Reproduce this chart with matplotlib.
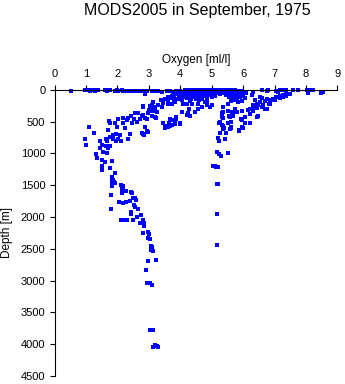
import matplotlib
matplotlib.use('Agg')
import matplotlib.pyplot as plt
import numpy as np

plt.rcParams['font.family'] = ['Liberation Sans', 'DejaVu Sans']

# near-surface samples, 0-50 m
surface_oxygen = [0.52, 0.97, 1.02, 1.08, 1.13, 1.18, 1.23, 1.29, 1.34, 1.39,
                  1.60, 1.66, 1.71, 1.76, 1.92, 1.98, 2.03, 2.14, 2.19, 2.24,
                  2.35, 2.45, 2.56, 2.63, 2.72, 2.82, 2.93, 3.09, 3.20, 3.30,
                  3.41, 3.57, 3.67, 3.78, 3.88, 3.99, 5.95, 6.32, 6.59, 6.75,
                  6.80, 7.06, 7.17, 7.22, 7.33, 7.38, 7.59, 7.75, 8.02, 8.07,
                  8.17, 8.23, 8.49, 8.55]
surface_depth = [15, 10, 10, 10, 12, 10, 10, 12, 10, 10,
                 10, 12, 10, 10, 12, 10, 15, 10, 20, 18,
                 15, 20, 18, 25, 15, 20, 25, 15, 20, 25,
                 30, 20, 25, 30, 20, 15, 20, 30, 5, 15,
                 10, 21, 5, 10, 5, 10, 5, 5, 10, 45,
                 5, 10, 45, 40]

# dense mixed layer, 0-180 m
core_oxygen = [4.15, 4.25, 4.35, 4.45, 4.55, 4.65, 4.75, 4.85, 4.95, 5.05, 5.15, 5.25, 5.35, 5.45, 5.55, 5.65, 5.75,
               4.05, 4.20, 4.30, 4.40, 4.50, 4.60, 4.70, 4.80, 4.90, 5.00, 5.10, 5.20, 5.30, 5.40, 5.50, 5.60, 5.70, 5.85, 6.00,
               3.90, 4.10, 4.25, 4.35, 4.45, 4.55, 4.70, 4.80, 4.95, 5.05, 5.15, 5.35, 5.50, 5.62, 5.75, 5.90, 6.10,
               3.85, 4.00, 4.15, 4.30, 4.40, 4.50, 4.60, 4.75, 4.90, 5.00, 5.25, 5.45, 5.60, 5.70, 5.85,
               3.75, 3.95, 4.05, 4.20, 4.35, 4.50, 4.65, 4.80, 4.95, 5.10, 5.50, 5.65, 5.80, 6.00,
               3.60, 3.80, 3.95, 4.10, 4.25, 4.40, 4.55, 4.70, 4.85, 5.00, 5.55, 5.70, 5.90,
               3.50, 3.70, 3.85, 4.00, 4.20, 4.35, 4.50, 4.65, 5.60, 5.80, 6.05,
               3.40, 3.60, 3.80, 4.05, 4.30, 4.60, 4.85, 5.75, 5.95]
core_depth = [3, 8, 2, 6, 4, 9, 3, 7, 2, 5, 8, 3, 6, 2, 9, 4, 7,
              28, 22, 30, 25, 20, 32, 24, 27, 21, 29, 23, 31, 26, 20, 30, 24, 28, 22, 35,
              45, 50, 42, 48, 55, 44, 47, 52, 43, 49, 46, 53, 41, 50, 45, 48, 55,
              68, 62, 72, 65, 70, 60, 75, 66, 71, 63, 69, 74, 61, 67, 73,
              90, 85, 95, 82, 88, 92, 80, 97, 86, 91, 84, 93, 89, 96,
              115, 108, 120, 112, 105, 118, 110, 122, 107, 116, 113, 109, 119,
              140, 132, 145, 138, 130, 142, 136, 148, 135, 141, 133,
              165, 158, 170, 162, 175, 160, 168, 157, 172]

# thermocline and low-oxygen branch, 180-1700 m
mid_oxygen = [1.76, 1.92, 1.73, 2.03, 1.98, 1.71, 1.95, 1.76, 1.87, 1.95,
              1.66, 1.64, 1.71, 1.76, 1.55, 1.68, 1.45, 1.64, 1.87, 2.11,
              2.01, 2.08, 2.19, 2.24, 2.33, 2.40, 2.30, 2.45, 2.43, 2.56,
              2.67, 2.61, 2.54, 2.72, 2.35, 2.19, 2.77, 2.85, 2.93, 2.80,
              2.88, 2.98, 2.93, 3.09, 3.01, 3.14, 3.04, 3.11, 3.20, 2.82,
              3.25, 3.23, 3.30, 3.46, 3.44, 3.54, 3.65, 3.78, 3.83, 3.69,
              3.88, 3.99, 3.51, 3.62, 3.73, 4.04, 4.25, 4.31, 4.20, 4.29,
              2.88, 3.14, 3.09, 3.04, 3.20, 2.82, 2.77, 2.88, 2.82, 2.98,
              3.20, 3.41, 3.62, 3.73, 3.83, 3.67, 3.78, 3.88, 3.51, 3.67,
              3.83, 3.99, 4.47, 4.57, 4.68, 4.84, 4.94, 5.00, 4.10, 4.20,
              4.36, 4.57, 4.79, 1.11, 0.97, 1.01, 1.26, 1.45, 1.52, 1.31,
              1.34, 1.50, 1.51, 1.52, 1.60, 1.84, 1.76, 1.92, 1.84, 1.85,
              1.82, 1.89, 1.80, 2.14, 2.19, 2.45, 2.56]
mid_depth = [514, 514, 492, 461, 592, 629, 692, 734, 776, 802,
             812, 891, 917, 880, 970, 986, 917, 776, 707, 812,
             776, 707, 514, 603, 776, 697, 472, 524, 409, 367,
             367, 498, 461, 461, 446, 446, 681, 707, 655, 393,
             435, 367, 461, 419, 314, 325, 251, 246, 262, 251,
             356, 435, 236, 199, 524, 561, 524, 472, 524, 456,
             430, 524, 603, 577, 550, 351, 367, 419, 393, 304,
             63, 193, 272, 325, 299, 262, 404, 587, 692, 665,
             430, 272, 220, 220, 193, 456, 482, 456, 587, 561,
             535, 535, 351, 299, 272, 246, 272, 246, 220, 220,
             220, 220, 193, 587, 776, 870, 681, 812, 865, 1006,
             1074, 1100, 1195, 1258, 1127, 1116, 1231, 1310, 1363, 1415,
             1509, 1457, 1650, 1598, 1520, 1624, 1703]

# deep water, below 1400 m
deep_oxygen = [1.82, 1.84, 1.92, 1.80, 2.10, 2.16, 2.19, 2.14, 2.26, 2.43,
               2.51, 2.59, 2.40, 2.06, 2.19, 2.26, 2.54, 2.56, 2.67, 1.80,
               2.43, 2.42, 2.75, 2.61, 2.10, 2.21, 2.30, 2.51, 2.80, 2.72,
               2.85, 2.86, 2.82, 2.98, 3.00, 2.96, 3.04, 3.06, 3.11, 3.07,
               3.12, 2.96, 3.22, 2.91, 2.93, 3.04, 3.11, 3.04, 3.12, 3.20,
               3.25, 3.12, 3.30]
deep_depth = [1431, 1494, 1467, 1661, 1494, 1530, 1572, 1624, 1598, 1614,
              1703, 1729, 1756, 1771, 1782, 1771, 1808, 1844, 1876, 1871,
              1923, 1950, 1966, 2002, 2044, 2055, 2055, 2044, 2044, 2096,
              2096, 2149, 2254, 2243, 2269, 2332, 2343, 2453, 2464, 2516,
              2542, 2688, 2672, 2830, 3040, 3040, 3066, 3774, 3774, 4009,
              4025, 4046, 4051]

# oxygen-rich stations on the right side
right_oxygen = [5.32, 5.35, 5.26, 5.23, 5.32, 5.35, 5.39, 5.26, 5.21, 5.24,
                5.43, 5.16, 5.22, 5.29, 5.51, 5.05, 5.13, 5.21, 5.19, 5.47,
                5.58, 5.53, 5.63, 5.56, 5.65, 5.79, 5.88, 5.95, 5.92, 6.06,
                6.06, 6.22, 6.16, 6.32, 6.43, 6.48, 6.59, 6.71, 6.64, 6.83,
                6.53, 6.75, 6.91, 7.06, 7.17, 7.27, 7.36, 7.12, 6.38, 6.27,
                7.49, 7.38, 7.27, 7.17, 6.96, 6.85, 6.69, 6.59, 6.53, 6.43,
                6.32, 6.64, 6.75, 6.85, 7.01, 6.59, 6.22, 6.32, 5.74, 5.67,
                5.95, 6.06, 6.22, 6.48, 6.43, 5.95, 6.22, 5.63, 5.63, 6.00,
                5.88, 5.37, 5.35, 5.32, 5.26, 5.37, 5.53, 5.58, 5.63, 5.53,
                5.74, 5.63, 5.84, 5.79, 5.16, 5.16, 5.18, 5.11]
right_depth = [367, 446, 498, 514, 550, 618, 603, 671, 760, 797,
               776, 980, 1006, 1038, 986, 1195, 1216, 1216, 1478, 681,
               618, 524, 498, 419, 351, 341, 629, 587, 461, 430,
               514, 383, 314, 304, 288, 236, 262, 304, 236, 220,
               115, 147, 157, 105, 94, 79, 52, 27, 157, 79,
               73, 89, 115, 126, 141, 157, 168, 126, 193, 220,
               246, 246, 299, 230, 157, 272, 299, 325, 351, 404,
               325, 430, 377, 404, 430, 472, 524, 508, 597, 603,
               650, 272, 351, 430, 508, 561, 325, 430, 587, 220,
               299, 168, 193, 115, 1954, 2442, 1483, 1205]

oxygen = np.concatenate([surface_oxygen, core_oxygen, mid_oxygen, deep_oxygen, right_oxygen])
depth = np.concatenate([surface_depth, core_depth, mid_depth, deep_depth, right_depth])

fig = plt.figure(figsize=(3.45, 3.84), dpi=100)
ax = fig.add_axes([0.158, 0.021, 0.820, 0.745])

ax.plot(oxygen, depth, 's', color='#0000ff', ms=2.6, mew=0, clip_on=False)

ax.set_xlim(0, 9)
ax.set_ylim(4500, 0)
ax.set_xticks(range(10))
ax.set_yticks(range(0, 4501, 500))
ax.xaxis.tick_top()
ax.xaxis.set_label_position('top')
ax.spines['right'].set_visible(False)
ax.spines['bottom'].set_visible(False)
for s in ('left', 'top'):
    ax.spines[s].set_linewidth(0.8)
ax.tick_params(direction='out', length=3.6, width=0.8, labelsize=8, pad=3)
ax.tick_params(axis='x', pad=4.5)

ax.set_xlabel('Oxygen [ml/l]', fontsize=8.5, labelpad=4)
ax.set_ylabel('Depth [m]', fontsize=8.5)
ax.yaxis.set_label_coords(-0.145, 0.5)

fig.text(0.571, 0.972, 'MODS2005 in September, 1975', ha='center', va='center', fontsize=11.5)

fig.savefig('out.png', dpi=100)
